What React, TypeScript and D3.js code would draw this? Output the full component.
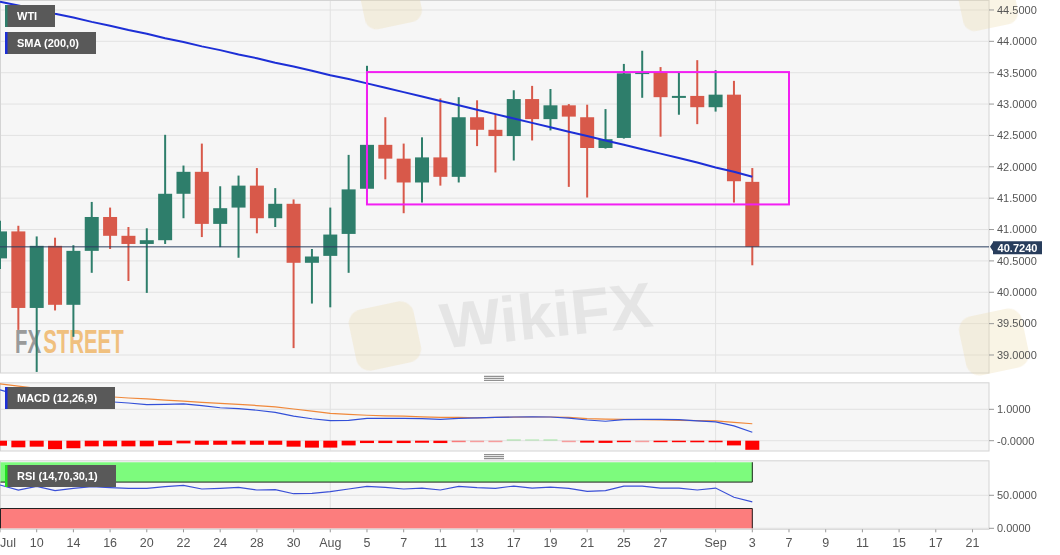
import * as d3 from "d3"

// trading days shown on the chart
const dates = [
  "Jul 8", "Jul 9", "Jul 10", "Jul 13", "Jul 14", "Jul 15", "Jul 16", "Jul 17", "Jul 20", "Jul 21",
  "Jul 22", "Jul 23", "Jul 24", "Jul 27", "Jul 28", "Jul 29", "Jul 30", "Jul 31", "Aug 3", "Aug 4",
  "Aug 5", "Aug 6", "Aug 7", "Aug 10", "Aug 11", "Aug 12", "Aug 13", "Aug 14", "Aug 17", "Aug 18",
  "Aug 19", "Aug 20", "Aug 21", "Aug 24", "Aug 25", "Aug 26", "Aug 27", "Aug 28", "Aug 31", "Sep 1",
  "Sep 2", "Sep 3",
]
const futureDates = [
  "Sep 4", "Sep 7", "Sep 8", "Sep 9", "Sep 10", "Sep 11", "Sep 14", "Sep 15", "Sep 16", "Sep 17",
  "Sep 18", "Sep 21", "Sep 22",
]

const open = [
  40.54, 40.97, 39.75, 40.74, 39.8, 40.66, 41.2, 40.9, 40.77, 40.83,
  41.57, 41.92, 41.09, 41.35, 41.7, 41.18, 41.41, 40.47, 40.58, 40.93,
  41.65, 42.35, 42.13, 41.75, 42.15, 41.84, 42.79, 42.59, 42.49, 43.08,
  42.76, 42.98, 42.79, 42.3, 42.46, 43.48, 43.51, 43.11, 43.13, 42.95,
  43.15, 41.76,
]
const high = [
  41.14, 41.06, 40.89, 40.87, 40.75, 41.44, 41.35, 41.04, 41.02, 42.51,
  42.02, 42.37, 41.69, 41.86, 41.98, 41.66, 41.48, 40.69, 41.35, 42.19,
  43.61, 42.79, 42.37, 42.47, 43.09, 43.11, 43.06, 42.83, 43.22, 43.29,
  43.24, 43.0, 42.99, 42.92, 43.64, 43.85, 43.59, 43.5, 43.7, 43.54,
  43.37, 41.98,
]
const low = [
  40.37, 39.4, 38.73, 39.71, 39.29, 40.31, 40.69, 40.18, 39.99, 40.77,
  41.18, 40.88, 40.72, 40.55, 40.94, 41.04, 39.11, 39.82, 39.76, 40.31,
  41.6, 41.8, 41.26, 41.43, 41.7, 41.75, 42.33, 41.91, 42.1, 42.42,
  42.58, 41.68, 41.51, 42.29, 42.45, 43.1, 42.48, 42.83, 42.68, 42.88,
  41.43, 40.43,
]
const close = [
  40.97, 39.75, 40.74, 39.8, 40.66, 41.2, 40.9, 40.77, 40.83, 41.57,
  41.92, 41.09, 41.34, 41.7, 41.18, 41.41, 40.47, 40.57, 40.92, 41.64,
  42.35, 42.13, 41.75, 42.15, 41.84, 42.79, 42.59, 42.49, 43.08, 42.76,
  42.98, 42.8, 42.3, 42.44, 43.49, 43.51, 43.11, 43.13, 42.95, 43.15,
  41.77, 40.724,
]
const sma200 = [
  44.63, 44.57, 44.51, 44.44, 44.38, 44.31, 44.25, 44.18, 44.12, 44.05,
  43.99, 43.92, 43.86, 43.79, 43.73, 43.66, 43.6, 43.53, 43.46, 43.4,
  43.33, 43.26, 43.19, 43.12, 43.05, 42.98, 42.91, 42.84, 42.77, 42.7,
  42.63, 42.56, 42.49, 42.42, 42.35, 42.28, 42.21, 42.14, 42.07, 41.99,
  41.92, 41.84,
]
const macdLine = [
  1.62, 1.45, 1.4, 1.35, 1.3, 1.27, 1.24, 1.2, 1.15, 1.16,
  1.17, 1.12, 1.05, 1.02, 0.97, 0.9, 0.78, 0.7, 0.64, 0.65,
  0.71, 0.71, 0.71, 0.7, 0.68, 0.71, 0.73, 0.74, 0.755, 0.76,
  0.755, 0.72, 0.66, 0.62, 0.67, 0.68, 0.68, 0.67, 0.63, 0.6,
  0.47, 0.27,
]
const signalLine = [
  1.81, 1.74, 1.67, 1.6, 1.54, 1.47, 1.4, 1.36, 1.33, 1.29,
  1.26, 1.22, 1.19, 1.16, 1.12, 1.08, 1.01, 0.94, 0.87, 0.84,
  0.81, 0.79, 0.78, 0.76, 0.745, 0.74, 0.73, 0.74, 0.75, 0.755,
  0.755, 0.74, 0.7, 0.69, 0.68, 0.67, 0.66, 0.65, 0.64, 0.63,
  0.585, 0.54,
]
const macdHist = [
  -0.16, -0.21, -0.19, -0.27, -0.24, -0.18, -0.18, -0.18, -0.18, -0.14,
  -0.085, -0.13, -0.13, -0.12, -0.13, -0.13, -0.19, -0.22, -0.22, -0.15,
  -0.075, -0.075, -0.075, -0.065, -0.075, -0.03, -0.015, -0.015, 0.01, 0.005,
  0.01, -0.015, -0.06, -0.07, -0.04, -0.015, -0.035, -0.04, -0.05, -0.05,
  -0.15, -0.29,
]
const rsi = [
  65.6, 58, 63.6, 57, 60.6, 63, 61.5, 60.6, 60.6, 63,
  65.1, 59.5, 60.6, 62, 58, 58.6, 52.4, 52.9, 55.5, 59.5,
  63.6, 62, 59.5, 61, 58, 63.6, 61.5, 60.6, 64, 61,
  62.5, 60.6, 56, 57, 64, 64, 61, 61, 58, 61,
  47, 40,
]

const lastPrice = 40.724
const rangeBox = { from: "Aug 5", to: "Sep 7", low: 41.4, high: 43.51 }

const priceTicks = [39, 39.5, 40, 40.5, 41, 41.5, 42, 42.5, 43, 43.5, 44, 44.5]
const macdTicks = [1, 0]
const macdTickLabels = ["1.0000", "-0.0000"]
const rsiTicks = [50, 0]
const monthStarts = ["Aug 3", "Sep 1"]
const xTickDates = [
  "Jul 8", "Jul 10", "Jul 14", "Jul 16", "Jul 20", "Jul 22", "Jul 24", "Jul 28", "Jul 30", "Aug 3",
  "Aug 5", "Aug 7", "Aug 11", "Aug 13", "Aug 17", "Aug 19", "Aug 21", "Aug 25", "Aug 27", "Sep 1",
  "Sep 3", "Sep 7", "Sep 9", "Sep 11", "Sep 15", "Sep 17", "Sep 21",
]
const xTickLabels = [
  "Jul", "10", "14", "16", "20", "22", "24", "28", "30", "Aug",
  "5", "7", "11", "13", "17", "19", "21", "25", "27", "Sep",
  "3", "7", "9", "11", "15", "17", "21",
]

const W = 1060
const H = 555
const plotR = 989
const mainTop = 0
const mainBot = 373
const macdTop = 382.3
const macdBot = 451
const rsiTop = 460.3
const rsiBot = 529.3

const UP = "#2e7e6b"
const DOWN = "#d8594a"
const AXIS_FONT = "'Liberation Sans', Arial, sans-serif"
const NARROW_FONT = "'Liberation Sans Narrow', 'Arial Narrow', 'Liberation Sans', sans-serif"

function Legend({ x, y, w, label, color }: { x: number; y: number; w: number; label: string; color: string }) {
  return (
    <g>
      <rect x={x} y={y} width={w} height={22} fill="#595959" />
      <rect x={x} y={y} width={2.5} height={22} fill={color} />
      <text x={x + 12} y={y + 15} fill="#fff" fontSize={11} fontWeight="bold" fontFamily={AXIS_FONT}>
        {label}
      </text>
    </g>
  )
}

function Handle({ y }: { y: number }) {
  return (
    <g stroke="#777" strokeWidth={1}>
      {[-2, 0, 2].map((d) => (
        <line key={d} x1={484} x2={504} y1={y + d} y2={y + d} />
      ))}
    </g>
  )
}

export default function App() {
  const allDates = [...dates, ...futureDates]
  const x = d3.scaleLinear().domain([0, 53.9]).range([0, plotR])
  const xd = (d: string) => x(allDates.indexOf(d))
  const bodyW = 14

  const yP = d3.scaleLinear().domain([38.713, 44.659]).range([mainBot, mainTop])
  const yM = d3.scaleLinear().domain([-0.328, 1.86]).range([macdBot, macdTop])
  const yR = d3.scaleLinear().domain([-1.5, 103]).range([rsiBot, rsiTop])

  const smaPath = d3.line<number>().x((_, i) => x(i)).y((v) => yP(v))(sma200) || ""
  const macdPath = d3.line<number>().x((_, i) => x(i)).y((v) => yM(v))(macdLine) || ""
  const sigPath = d3.line<number>().x((_, i) => x(i)).y((v) => yM(v))(signalLine) || ""
  const rsiPath = d3.line<number>().x((_, i) => x(i)).y((v) => yR(v))(rsi) || ""

  const lastX = x(dates.length - 1)

  return (
    <svg
      width={W}
      height={H}
      style={{ position: "absolute", left: 0, top: 0, display: "block", background: "#fff" }}
    >
      <defs>
        <clipPath id="mainClip">
          <rect x={0} y={mainTop} width={plotR} height={mainBot - mainTop} />
        </clipPath>
        <clipPath id="macdClip">
          <rect x={0} y={macdTop} width={plotR} height={macdBot - macdTop} />
        </clipPath>
        <clipPath id="rsiClip">
          <rect x={0} y={rsiTop} width={plotR} height={rsiBot - rsiTop} />
        </clipPath>
      </defs>

      {/* panel backgrounds */}
      {[
        [mainTop, mainBot],
        [macdTop, macdBot],
        [rsiTop, rsiBot],
      ].map(([t, b]) => (
        <rect key={t} x={0.5} y={t + 0.5} width={plotR - 0.5} height={b - t - 0.5} fill="#f6f6f6" stroke="#d4d4d4" />
      ))}

      {/* grid lines */}
      <g stroke="#e2e2e2" strokeWidth={1}>
        {priceTicks.map((t) => (
          <line key={t} x1={1} x2={plotR} y1={yP(t)} y2={yP(t)} />
        ))}
        {macdTicks.map((t) => (
          <line key={t} x1={1} x2={plotR} y1={yM(t)} y2={yM(t)} />
        ))}
        {rsiTicks.map((t) => (
          <line key={t} x1={1} x2={plotR} y1={yR(t)} y2={yR(t)} />
        ))}
        {monthStarts.map((d) => (
          <g key={d}>
            <line x1={xd(d)} x2={xd(d)} y1={mainTop + 1} y2={mainBot} />
            <line x1={xd(d)} x2={xd(d)} y1={macdTop + 1} y2={macdBot} />
            <line x1={xd(d)} x2={xd(d)} y1={rsiTop + 1} y2={rsiBot} />
          </g>
        ))}
      </g>

      {/* watermarks */}
      <g opacity={0.3}>
        <rect x={352} y={305} width={66} height={62} rx={14} fill="#ecd9a8" transform="rotate(-12 385 336)" />
        <rect x={962} y={312} width={64} height={60} rx={14} fill="#ecd9a8" transform="rotate(-12 994 342)" />
        <rect x={362} y={-20} width={58} height={46} rx={12} fill="#ecd9a8" transform="rotate(-12 391 3)" />
        <rect x={960} y={-20} width={56} height={48} rx={12} fill="#ecd9a8" transform="rotate(-12 988 4)" />
      </g>
      <text x={440} y={336} fill="#d2d2d2" opacity={0.45} fontSize={64} fontWeight="bold" fontFamily={AXIS_FONT} transform="rotate(-6 560 316)">
        WikiFX
      </text>
      <g transform="translate(15,353) scale(0.6,1)" fontSize={34} fontWeight="bold" fontFamily={AXIS_FONT}>
        <text x={0} y={0} fill="#9a9a9a">
          FX
        </text>
        <text x={47} y={0} fill="#f0c07e">
          STREET
        </text>
      </g>

      {/* RSI zones */}
      <rect x={0.5} y={yR(100)} width={lastX} height={yR(70) - yR(100)} fill="#7dfb7d" />
      <rect x={0.5} y={yR(30)} width={lastX} height={yR(0) - yR(30)} fill="#fc7d7d" />
      <path
        d={`M0.5,${yR(70)}H${lastX}V${yR(100)}M0.5,${yR(0)}V${yR(30)}H${lastX}V${yR(0)}`}
        fill="none"
        stroke="#222"
        strokeWidth={1}
      />

      {/* main candles */}
      <g clipPath="url(#mainClip)">
        {dates.map((d, i) => {
          const cx = x(i)
          const up = close[i] >= open[i]
          const col = up ? UP : DOWN
          const top = yP(Math.max(open[i], close[i]))
          const bot = yP(Math.min(open[i], close[i]))
          return (
            <g key={d}>
              <line x1={cx} x2={cx} y1={yP(high[i])} y2={yP(low[i])} stroke={col} strokeWidth={2} />
              <rect x={cx - bodyW / 2} y={top} width={bodyW} height={Math.max(2, bot - top)} fill={col} />
            </g>
          )
        })}
        <path d={smaPath} fill="none" stroke="#1d2fd6" strokeWidth={2} />
        <rect
          x={xd(rangeBox.from)}
          y={yP(rangeBox.high)}
          width={xd(rangeBox.to) - xd(rangeBox.from)}
          height={yP(rangeBox.low) - yP(rangeBox.high)}
          fill="none"
          stroke="#f21ff2"
          strokeWidth={2}
        />
        <line x1={0} x2={plotR} y1={yP(lastPrice)} y2={yP(lastPrice)} stroke="#2a3f5f" strokeWidth={1} />
      </g>

      {/* MACD */}
      <g clipPath="url(#macdClip)">
        {macdHist.map((v, i) => {
          const a = Math.abs(v)
          const y0 = yM(0)
          const y1 = yM(v)
          const h = Math.max(1.5, Math.abs(y1 - y0))
          return (
            <rect
              key={i}
              x={x(i) - bodyW / 2}
              y={v >= 0 ? y0 - h : y0}
              width={bodyW}
              height={h}
              fill={v >= 0 ? "#3fd23f" : "#ff0000"}
              fillOpacity={a >= 0.033 ? 1 : 0.2 + a * 10}
            />
          )
        })}
        <path d={sigPath} fill="none" stroke="#f0883a" strokeWidth={1.2} />
        <path d={macdPath} fill="none" stroke="#3350d8" strokeWidth={1.2} />
      </g>

      {/* RSI */}
      <g clipPath="url(#rsiClip)">
        <path d={rsiPath} fill="none" stroke="#3a4fd6" strokeWidth={1.2} />
      </g>

      <Handle y={378.3} />
      <Handle y={456.7} />

      {/* right axes */}
      <g fontFamily={AXIS_FONT} fontSize={11} fill="#555">
        {priceTicks.map((t) => (
          <g key={t}>
            <line x1={plotR} x2={plotR + 5} y1={yP(t)} y2={yP(t)} stroke="#999" />
            <text x={plotR + 8} y={yP(t)} dy="0.35em">
              {t.toFixed(4)}
            </text>
          </g>
        ))}
        {macdTicks.map((t, i) => (
          <g key={t}>
            <line x1={plotR} x2={plotR + 5} y1={yM(t)} y2={yM(t)} stroke="#999" />
            <text x={plotR + 8} y={yM(t)} dy="0.35em">
              {macdTickLabels[i]}
            </text>
          </g>
        ))}
        {rsiTicks.map((t) => (
          <g key={t}>
            <line x1={plotR} x2={plotR + 5} y1={yR(t)} y2={yR(t)} stroke="#999" />
            <text x={plotR + 8} y={yR(t)} dy="0.35em">
              {t.toFixed(4)}
            </text>
          </g>
        ))}
      </g>

      {/* last price label */}
      <path
        d={`M${plotR + 1},${yP(lastPrice)}L${plotR + 4},${yP(lastPrice) - 4.5}V${yP(lastPrice) - 5.5}H${plotR + 53}V${yP(lastPrice) + 7.5}H${plotR + 4}V${yP(lastPrice) + 4.5}Z`}
        fill="#283d5c"
      />
      <text x={plotR + 28.5} y={yP(lastPrice) + 1} dy="0.35em" textAnchor="middle" fill="#fff" fontSize={11} fontWeight="bold" fontFamily={AXIS_FONT}>
        {lastPrice.toFixed(4)}
      </text>

      {/* x axis */}
      <g fontFamily={NARROW_FONT} fontSize={12.5} fill="#555">
        {xTickDates.map((d, i) => {
          const tx = xd(d)
          const first = tx < 8
          return (
            <g key={d}>
              <line x1={tx} x2={tx} y1={rsiBot} y2={rsiBot + 3} stroke="#999" />
              <text x={first ? 0 : tx} y={547} textAnchor={first ? "start" : "middle"}>
                {xTickLabels[i]}
              </text>
            </g>
          )
        })}
      </g>

      {/* legends */}
      <Legend x={5} y={5} w={50} label="WTI" color={UP} />
      <Legend x={5} y={32} w={91} label="SMA (200,0)" color="#1d2fd6" />
      <Legend x={5} y={387} w={110} label="MACD (12,26,9)" color="#1d2fd6" />
      <Legend x={5} y={465} w={111} label="RSI (14,70,30,1)" color="#22e022" />
    </svg>
  )
}
